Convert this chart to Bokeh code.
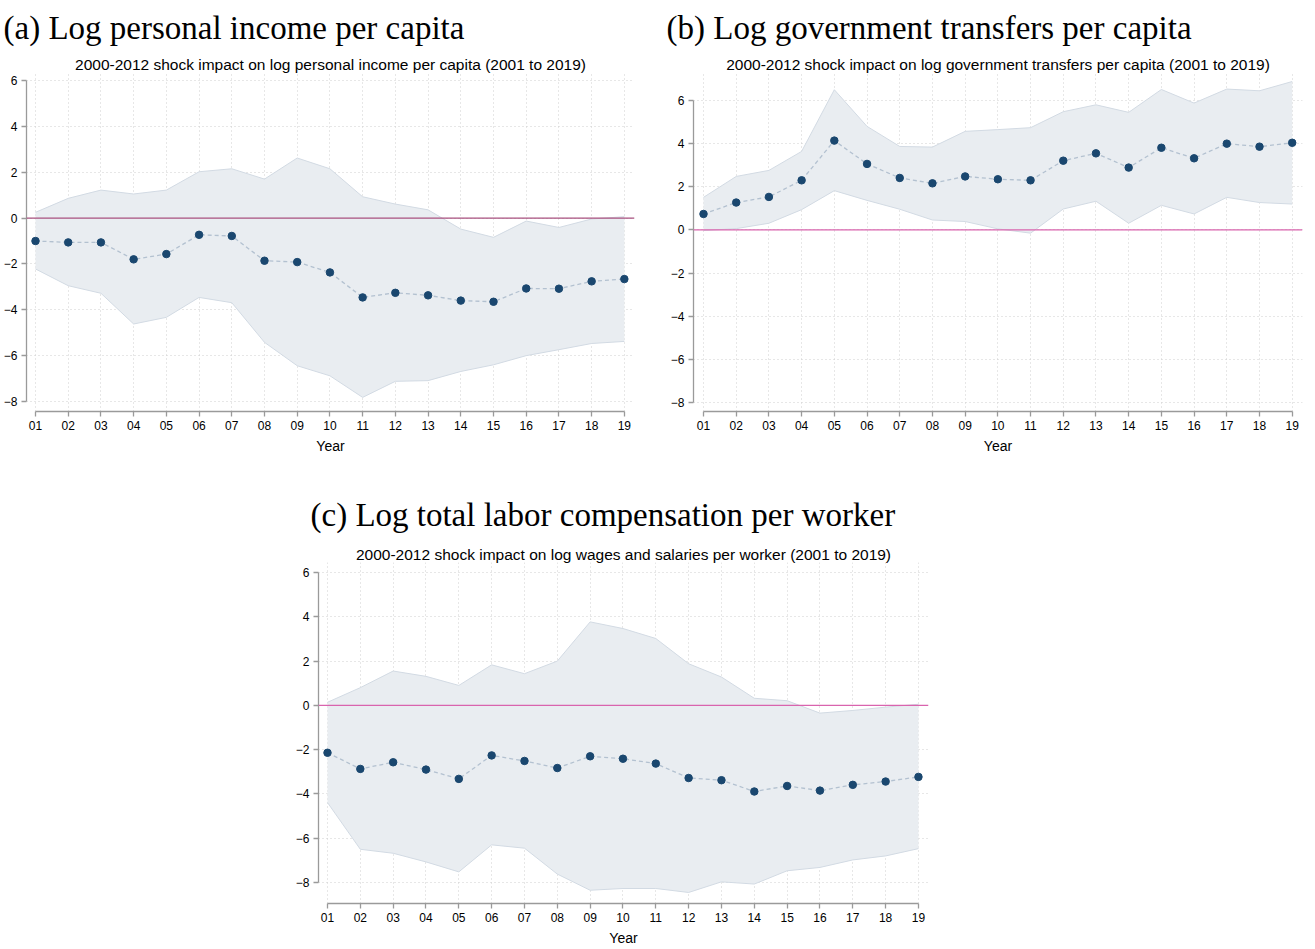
from bokeh.plotting import figure
from bokeh.models import FixedTicker, Span, Title, Spacer, Range1d
from bokeh.layouts import column, row
from bokeh.embed import file_html
from bokeh.resources import INLINE

# ---------------- data ----------------
years = list(range(1, 20))
year_labels = ["01", "02", "03", "04", "05", "06", "07", "08", "09", "10",
               "11", "12", "13", "14", "15", "16", "17", "18", "19"]
y_ticks = [-8, -6, -4, -2, 0, 2, 4, 6]

income_coef = [-1.00, -1.06, -1.06, -1.80, -1.57, -0.73, -0.78, -1.86, -1.92, -2.37,
               -3.46, -3.26, -3.37, -3.60, -3.65, -3.07, -3.08, -2.76, -2.66]
income_upper = [0.25, 0.86, 1.22, 1.05, 1.22, 2.02, 2.15, 1.70, 2.62, 2.15,
                0.93, 0.61, 0.36, -0.48, -0.84, -0.13, -0.41, -0.04, 0.06]
income_lower = [-2.22, -2.95, -3.28, -4.62, -4.33, -3.46, -3.69, -5.42, -6.44, -6.88,
                -7.82, -7.12, -7.09, -6.69, -6.40, -6.00, -5.74, -5.47, -5.38]

transfers_coef = [0.74, 1.27, 1.53, 2.30, 4.14, 3.06, 2.41, 2.16, 2.48, 2.35,
                  2.30, 3.21, 3.55, 2.89, 3.81, 3.32, 4.00, 3.86, 4.04]
transfers_upper = [1.51, 2.48, 2.76, 3.64, 6.50, 4.80, 3.87, 3.84, 4.57, 4.65,
                   4.74, 5.48, 5.80, 5.45, 6.51, 5.88, 6.53, 6.45, 6.88]
transfers_lower = [-0.03, 0.06, 0.31, 0.94, 1.82, 1.37, 0.96, 0.46, 0.39, 0.05,
                   -0.15, 0.97, 1.33, 0.31, 1.14, 0.74, 1.51, 1.27, 1.20]

wages_coef = [-2.14, -2.87, -2.57, -2.90, -3.32, -2.26, -2.51, -2.83, -2.30, -2.41,
              -2.63, -3.28, -3.38, -3.89, -3.64, -3.85, -3.59, -3.44, -3.23]
wages_upper = [0.14, 0.80, 1.55, 1.31, 0.90, 1.83, 1.43, 2.00, 3.77, 3.47,
               3.02, 1.88, 1.28, 0.32, 0.21, -0.35, -0.23, -0.08, 0.05]
wages_lower = [-4.39, -6.50, -6.68, -7.07, -7.52, -6.30, -6.45, -7.62, -8.35, -8.27,
               -8.27, -8.45, -7.97, -8.07, -7.47, -7.32, -6.98, -6.80, -6.47]

# ---------------- styles ----------------
NAVY = "#1A476F"
BAND = "#E9EDF1"
BAND_EDGE = "#D2DAE3"
DASH = "#B3C1D0"
AXIS = "#9A9A9A"
GRID = "#CFCFCF"
SANS = "Liberation Sans"
SERIF = "Liberation Serif"


def make_panel(caption, title, coef, upper, lower, xr, yr, width, height,
               bl, br, bt, bb, cap_offset, cap_standoff, zero_color):
    p = figure(width=width, height=height, x_range=Range1d(*xr), y_range=Range1d(*yr),
               output_backend="svg", toolbar_location=None, title=None,
               min_border_left=bl, min_border_right=br,
               min_border_top=bt, min_border_bottom=bb)
    p.outline_line_color = None
    p.background_fill_color = "white"
    p.border_fill_color = "white"

    t = Title(text=title, align="center", text_font=SANS, text_font_size="15.5px",
              text_font_style="normal", text_color="black", standoff=0)
    p.add_layout(t, "above")
    c = Title(text=caption, align="left", offset=cap_offset, text_font=SERIF,
              text_font_size="33px", text_font_style="normal", text_color="black",
              standoff=cap_standoff)
    p.add_layout(c, "above")

    p.varea(x=years, y1=lower, y2=upper, fill_color=BAND, fill_alpha=1.0)
    p.line(years, upper, line_color=BAND_EDGE, line_width=1)
    p.line(years, lower, line_color=BAND_EDGE, line_width=1)
    p.add_layout(Span(location=0, dimension="width", line_color=zero_color, line_width=1.2))
    p.line(years, coef, line_color=DASH, line_width=1.3, line_dash="4 3")
    p.scatter(years, coef, size=7.5, fill_color=NAVY, line_color=NAVY)

    p.xaxis.ticker = FixedTicker(ticks=years)
    p.xaxis.major_label_overrides = {y: lab for y, lab in zip(years, year_labels)}
    p.yaxis.ticker = FixedTicker(ticks=y_ticks)
    p.xaxis.bounds = (years[0], years[-1])
    p.yaxis.bounds = (y_ticks[0], y_ticks[-1])
    p.xaxis.axis_label = "Year"
    p.xaxis.axis_label_text_font = SANS
    p.xaxis.axis_label_text_font_size = "14px"
    p.xaxis.axis_label_text_font_style = "normal"
    p.xaxis.axis_label_text_color = "black"
    p.xaxis.axis_label_standoff = 5
    p.xaxis.axis_label_text_line_height = 1.0
    for ax in (p.xaxis, p.yaxis):
        ax.axis_line_color = AXIS
        ax.axis_line_width = 1.3
        ax.major_tick_line_color = AXIS
        ax.major_tick_line_width = 1.3
        ax.major_tick_in = 0
        ax.major_tick_out = 5
        ax.minor_tick_line_color = None
        ax.major_label_text_font = SANS
        ax.major_label_text_font_size = "12px"
        ax.major_label_text_color = "black"
        ax.major_label_text_line_height = 1.0
        ax.major_label_standoff = 4
    p.xgrid.ticker = FixedTicker(ticks=years)
    p.ygrid.ticker = FixedTicker(ticks=y_ticks)
    for g in (p.xgrid, p.ygrid):
        g.grid_line_color = GRID
        g.grid_line_dash = "1 3"
        g.grid_line_width = 1
    return p


pa = make_panel("(a) Log personal income per capita",
                "2000-2012 shock impact on log personal income per capita (2001 to 2019)",
                income_coef, income_upper, income_lower,
                (0.725, 19.31), (-8.436, 6.349), 645, 459, 26, 11, 72, 48,
                -23, 15, "#A8507F")

pb = make_panel("(b) Log government transfers per capita",
                "2000-2012 shock impact on log government transfers per capita (2001 to 2019)",
                transfers_coef, transfers_upper, transfers_lower,
                (0.694, 19.315), (-8.417, 7.298), 670, 459, 48, 13, 72, 48,
                -27, 15, "#D964AE")

pc = make_panel("(c) Log total labor compensation per worker",
                "2000-2012 shock impact on log wages and salaries per worker (2001 to 2019)",
                wages_coef, wages_upper, wages_lower,
                (0.726, 19.306), (-8.948, 6.452), 659, 490, 40, 9, 103, 46,
                -8, 22, "#D964AE")

layout = column(row(pa, pb), row(Spacer(width=278, height=10), pc))

with open("out.html", "w") as f:
    f.write(file_html(layout, INLINE))
